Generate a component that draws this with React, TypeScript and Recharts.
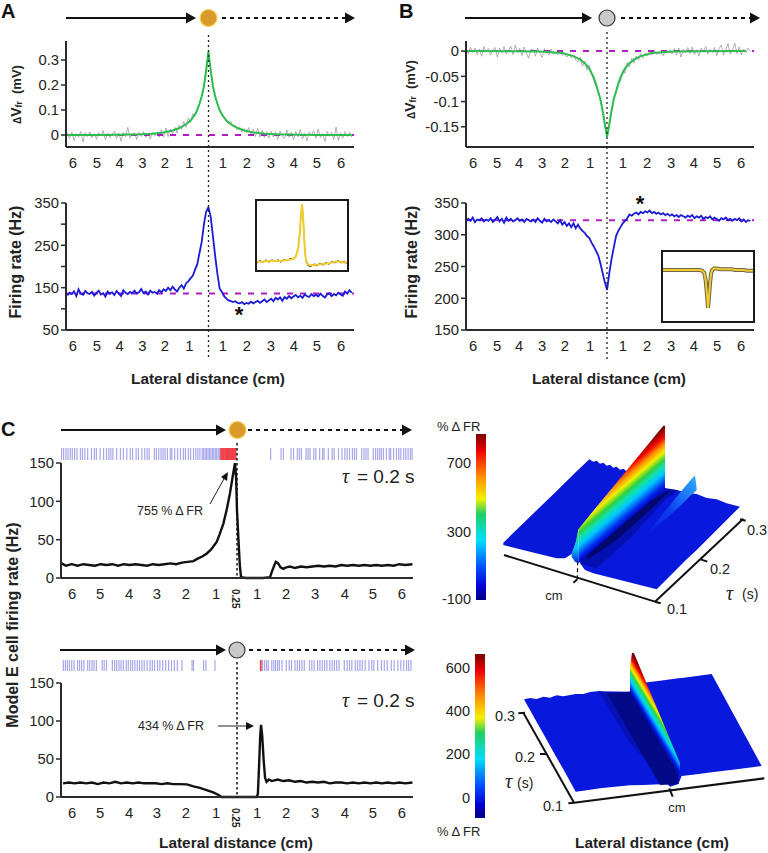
import React from "react";
import {
  Area,
  ComposedChart,
  Line,
  LineChart,
  ReferenceLine,
  Scatter,
  ScatterChart,
  XAxis,
  YAxis,
} from "recharts";

const FONT = "'Liberation Sans', Arial, sans-serif";

// x positions (cm) shared by the panel A and B traces, one row of ten per line
const gridCm = [
  -6.3, -6.2, -6.1, -6, -5.9, -5.8, -5.7, -5.6, -5.5, -5.4,
  -5.3, -5.2, -5.1, -5, -4.9, -4.8, -4.7, -4.6, -4.5, -4.4,
  -4.3, -4.2, -4.1, -4, -3.9, -3.8, -3.7, -3.6, -3.5, -3.4,
  -3.3, -3.2, -3.1, -3, -2.9, -2.8, -2.7, -2.6, -2.5, -2.4,
  -2.3, -2.2, -2.1, -2, -1.9, -1.8, -1.7, -1.6, -1.5, -1.4,
  -1.3, -1.2, -1.1, -1, -0.9, -0.8, -0.7, -0.6, -0.5, -0.4,
  -0.3, -0.2, -0.1, 0, 0.1, 0.2, 0.3, 0.4, 0.5, 0.6,
  0.7, 0.8, 0.9, 1, 1.1, 1.2, 1.3, 1.4, 1.5, 1.6,
  1.7, 1.8, 1.9, 2, 2.1, 2.2, 2.3, 2.4, 2.5, 2.6,
  2.7, 2.8, 2.9, 3, 3.1, 3.2, 3.3, 3.4, 3.5, 3.6,
  3.7, 3.8, 3.9, 4, 4.1, 4.2, 4.3, 4.4, 4.5, 4.6,
  4.7, 4.8, 4.9, 5, 5.1, 5.2, 5.3, 5.4, 5.5, 5.6,
  5.7, 5.8, 5.9, 6, 6.1, 6.2, 6.3, 6.4,
];

// membrane potential change, in microvolts
const rawDvA = [
  8, -14, 12, -22, 6, -9, 15, -28, 10, -6,
  13, -11, 5, -17, 9, -4, 18, -20, 7, -12,
  4, 16, -15, 8, -25, 11, -7, 30, -13, 3,
  9, -18, 12, -6, 14, -10, 7, -16, 11, -5,
  10, -9, 22, -8, 28, -6, 24, 5, 30, 8,
  40, 22, 55, 30, 68, 50, 85, 75, 105, 125,
  150, 195, 258, 330, 262, 198, 158, 128, 98, 88,
  70, 62, 45, 55, 32, 38, 20, 30, 12, 26,
  8, 30, -4, 24, -6, 28, -8, 18, -10, 14,
  -12, 15, -8, 12, -18, 16, -5, -14, 20, -9,
  10, -20, 14, -7, 22, -16, 6, -24, 12, -3,
  17, -13, 24, -10, 6, -26, 15, -5, 11, -18,
  32, -22, 9, -12, 14, -6, 10, -8,
];
const rawDvB = [
  2, -5, 8, -3, 6, -7, 4, -10, 9, -2,
  5, -8, 3, 7, -12, 6, -4, 9, -6, 2,
  10, -7, 12, -3, 6, -9, 8, -5, -14, 4,
  3, -10, 6, -4, -13, 5, -2, -8, 4, -6,
  -3, -7, 2, -9, -4, -12, -6, -14, -8, -18,
  -22, -12, -30, -20, -38, -28, -42, -58, -70, -78,
  -98, -120, -145, -170, -146, -118, -95, -82, -62, -60,
  -38, -44, -22, -32, -14, -24, -10, -18, -5, -14,
  -4, -10, -1, -8, 2, -6, -5, -3, -9, 1,
  -4, 3, -6, 5, -8, 6, -12, 4, -3, 7,
  -5, 8, -7, 3, -10, 6, -2, 9, -6, 4,
  -3, 7, -9, 5, 12, -8, 3, 15, -6, 2,
  16, -5, 8, -7, 4, -3, 6, -1,
];

const fitAX = [-6.3, -5, -4, -3, -2.5, -2, -1.6, -1.3, -1, -0.8, -0.6, -0.5, -0.4, -0.3, -0.2, -0.1, 0, 0.1, 0.2, 0.3, 0.4, 0.5, 0.6, 0.8, 1, 1.3, 1.6, 2, 2.5, 3, 4, 5, 6.4];
const fitAY = [0, 0, 1, 3, 5, 10, 18, 28, 43, 58, 82, 100, 125, 155, 195, 260, 335, 260, 195, 155, 125, 100, 82, 58, 43, 28, 18, 10, 5, 3, 1, 0, 0];
const fitBX = [-6.3, -4, -3, -2, -1.5, -1.2, -1, -0.8, -0.6, -0.5, -0.4, -0.3, -0.2, -0.1, 0, 0.1, 0.2, 0.3, 0.4, 0.5, 0.6, 0.8, 1, 1.2, 1.5, 2, 3, 4, 6.2];
const fitBY = [0, -0.5, -1, -4, -10, -17, -24, -34, -52, -65, -80, -95, -118, -145, -170, -145, -118, -95, -80, -65, -52, -34, -24, -17, -10, -4, -1, -0.5, 0];

// firing rates (Hz)
const rateA = [
  132, 138, 135, 141, 130, 146, 136, 133, 142, 137,
  135, 140, 131, 138, 143, 134, 137, 129, 141, 136,
  139, 133, 142, 136, 130, 144, 138, 135, 140, 137,
  143, 136, 139, 147, 137, 141, 134, 143, 138, 140,
  136, 144, 139, 146, 142, 150, 144, 152, 146, 141,
  150, 156, 148, 160, 165, 172, 178, 192, 205, 232,
  258, 300, 330, 340, 318, 272, 225, 183, 148, 140,
  130, 124, 120, 118, 116, 118, 114, 113, 116, 111,
  114, 112, 117, 113, 116, 119, 114, 118, 122, 116,
  120, 124, 118, 126, 122, 127, 119, 128, 124, 130,
  125, 129, 133, 127, 131, 126, 134, 130, 128, 135,
  130, 133, 129, 136, 131, 127, 134, 137, 130, 135,
  132, 138, 134, 131, 141, 136, 144, 138,
];
const rateB = [
  321, 325, 322, 327, 320, 324, 323, 326, 321, 324,
  322, 326, 320, 324, 328, 321, 325, 319, 327, 322,
  325, 321, 323, 326, 322, 324, 320, 325, 323, 321,
  324, 320, 326, 322, 319, 325, 321, 323, 320, 324,
  321, 318, 323, 316, 320, 314, 318, 312, 318, 310,
  316, 310, 306, 303, 298, 295, 288, 282, 275, 268,
  255, 240, 225, 213, 240, 262, 280, 298, 306, 312,
  318, 322, 326, 332, 330, 333, 335, 332, 336, 334,
  337, 335, 338, 334, 336, 333, 335, 332, 334, 331,
  333, 330, 332, 329, 331, 328, 331, 329, 327, 330,
  328, 331, 326, 329, 327, 330, 325, 328, 326, 329,
  324, 327, 325, 322, 326, 324, 327, 323, 325, 322,
  325, 323, 326, 321, 324, 320, 323, 322,
];

// insets, in percent of the inset height
const insetX = [-6, -5.6, -5.2, -4.8, -4.4, -4, -3.6, -3.2, -2.8, -2.4, -2, -1.6, -1.2, -0.8, -0.5, -0.3, -0.15, 0, 0.1, 0.25, 0.4, 0.55, 0.8, 1.2, 1.6, 2, 2.4, 2.8, 3.2, 3.6, 4, 4.4, 4.8, 5.2, 5.6, 6];
const insetAFit = [12, 12, 12, 13, 13, 13, 13, 13, 13, 14, 14, 15, 16, 20, 32, 52, 78, 95, 85, 55, 25, 13, 8, 7, 7, 8, 8, 9, 9, 10, 11, 12, 12, 12, 11, 11];
const insetARaw = [10, 14, 11, 15, 11, 15, 12, 15, 11, 16, 13, 17, 15, 21, 32, 52, 78, 95, 85, 55, 25, 12, 6, 5, 9, 6, 10, 7, 11, 8, 13, 10, 14, 10, 13, 9];
const insetBFit = [74, 74, 74, 74, 74, 74, 74, 74, 74, 74, 74, 74, 74, 73, 70, 58, 40, 19, 30, 52, 68, 74, 76, 76, 75, 75, 75, 75, 75, 74, 74, 74, 74, 73, 73, 73];

// panel C model cell
const modelTopX = [-6.05, -5.9, -5.7, -5.5, -5.3, -5.1, -4.9, -4.7, -4.5, -4.3, -4.1, -3.9, -3.7, -3.5, -3.3, -3.1, -2.9, -2.7, -2.5, -2.3, -2.1, -1.9, -1.7, -1.5, -1.39, -1.2, -1.04, -0.9, -0.7, -0.6, -0.47, -0.35, -0.24, -0.15, -0.07, -0.03, 0, 0.05, 0.1, 0.14, 0.3, 0.6, 0.9, 1.14, 1.2, 1.28, 1.34, 1.42, 1.5, 1.6, 1.7, 1.83, 2, 2.2, 2.4, 2.6, 2.8, 3, 3.2, 3.4, 3.6, 3.8, 4, 4.2, 4.4, 4.6, 4.8, 5, 5.2, 5.4, 5.6, 5.8, 6.05];
const modelTopY = [19, 16, 18, 16, 18, 17, 16, 18, 17, 18, 16, 18, 17, 18, 17, 16, 18, 17, 18, 19, 18, 20, 21, 22, 24.6, 28, 32, 37, 47, 57, 71, 90, 111, 132, 150, 130, 88, 50, 15, 1, 0, 0, 0, 1, 8, 16, 21, 19, 14, 12, 14, 15, 13, 15, 14, 15, 16, 15, 16, 15, 17, 16, 17, 16, 17, 16, 17, 16, 17, 16, 18, 17, 18];
const modelBottomX = [-6, -5.8, -5.6, -5.4, -5.2, -5, -4.8, -4.6, -4.4, -4.2, -4, -3.8, -3.6, -3.4, -3.2, -3, -2.8, -2.6, -2.4, -2.2, -2, -1.73, -1.5, -1.28, -1.05, -0.82, -0.65, -0.53, -0.2, 0.2, 0.68, 0.72, 0.76, 0.8, 0.83, 0.87, 0.92, 0.97, 1.02, 1.1, 1.2, 1.4, 1.6, 1.8, 2, 2.2, 2.4, 2.6, 2.8, 3, 3.2, 3.4, 3.6, 3.8, 4, 4.2, 4.4, 4.6, 4.8, 5, 5.2, 5.4, 5.6, 5.8, 6.05];
const modelBottomY = [18, 19, 18, 19, 18, 19, 17, 19, 18, 20, 18, 19, 18, 19, 18, 18, 18, 17, 18, 17, 17, 16.6, 14, 12, 9, 6, 3, 0, 0, 0, 0, 4, 40, 80, 95, 80, 48, 25, 20, 23, 21, 23, 21, 22, 20, 21, 19, 20, 19, 20, 18, 19, 19, 18, 19, 18, 19, 18, 19, 18, 19, 18, 19, 18, 19];

// spike rasters
const spikesTopBlue = [-6.05, -5.98, -5.9, -5.83, -5.75, -5.68, -5.6, -5.52, -5.4, -5.33, -5.25, -5.15, -5.02, -4.92, -4.85, -4.72, -4.6, -4.5, -4.42, -4.35, -4.28, -4.15, -4.02, -3.92, -3.8, -3.68, -3.6, -3.48, -3.4, -3.28, -3.18, -3.1, -3.03, -2.85, -2.78, -2.7, -2.62, -2.55, -2.48, -2.4, -2.3, -2.25, -2.15, -2.05, -1.95, -1.85, -1.78, -1.68, -1.6, -1.5, -1.42, -1.35, -1.28, -1.2, -1.15, -1.1, -1.05, -1, -0.95, -0.9, -0.85, -0.8, -0.75, -0.7, -0.65, -0.6, 1.16, 1.52, 1.6, 1.86, 1.95, 2.08, 2.15, 2.22, 2.38, 2.45, 2.52, 2.65, 2.72, 2.85, 2.95, 3, 3.15, 3.28, 3.35, 3.5, 3.62, 3.72, 3.8, 3.88, 3.98, 4.05, 4.12, 4.3, 4.38, 4.45, 4.52, 4.7, 4.78, 4.85, 4.92, 4.98, 5.05, 5.15, 5.25, 5.3, 5.4, 5.5, 5.58, 5.65, 5.75, 5.82, 5.9, 5.98, 6.04];
const spikesTopRed = [-0.55, -0.5, -0.45, -0.4, -0.36, -0.32, -0.28, -0.24, -0.2, -0.17, -0.14, -0.11, -0.08, -0.05];
const spikesBottomBlue = [-5.99, -5.92, -5.85, -5.78, -5.7, -5.62, -5.5, -5.43, -5.36, -5.28, -5.15, -5.08, -5, -4.93, -4.85, -4.65, -4.58, -4.5, -4.3, -4.22, -4.15, -4.07, -4, -3.92, -3.82, -3.75, -3.67, -3.6, -3.52, -3.44, -3.36, -3.28, -3.2, -3.1, -3, -2.92, -2.84, -2.74, -2.66, -2.56, -2.46, -2.36, -2.26, -2.16, -2.06, -1.9, -1.55, -1.5, -1.15, -1.07, -0.76, 0.88, 0.95, 1.02, 1.08, 1.2, 1.27, 1.33, 1.4, 1.46, 1.55, 1.7, 1.8, 1.88, 2, 2.08, 2.16, 2.24, 2.32, 2.5, 2.58, 2.66, 2.78, 2.86, 2.94, 3.02, 3.1, 3.2, 3.28, 3.36, 3.44, 3.52, 3.7, 3.8, 3.88, 3.96, 4.08, 4.16, 4.24, 4.32, 4.42, 4.55, 4.65, 4.72, 4.85, 4.98, 5.08, 5.18, 5.32, 5.42, 5.55, 5.65, 5.75, 5.85, 5.92, 6];
const spikesBottomRed = [0.82];

// axis ticks: where each printed distance sits, and what it says
const ticksA = [-6.05, -4.98, -3.97, -2.95, -1.94, -0.85, 0.65, 1.72, 2.79, 3.82, 4.84, 5.92];
const ticksB = [-5.98, -4.91, -3.93, -2.9, -1.88, -0.76, 0.71, 1.79, 2.86, 3.88, 4.91, 5.98];
const ticksC = [-5.69, -4.72, -3.72, -2.76, -1.76, -0.72, 0.69, 1.69, 2.69, 3.72, 4.69, 5.69];
const distanceLabels = ["6", "5", "4", "3", "2", "1", "1", "2", "3", "4", "5", "6"];

const dvATicks = [0, 100, 200, 300];
const dvALabels = ["0", "0.1", "0.2", "0.3"];
const dvBTicks = [-150, -100, -50, 0];
const dvBLabels = ["-0.15", "-0.1", "-0.05", "0"];
const rateATicks = [50, 100, 150, 200, 250, 300, 350];
const rateALabels = ["50", "", "150", "", "250", "", "350"];
const rateBTicks = [150, 200, 250, 300, 350];
const rateBLabels = ["150", "200", "250", "300", "350"];
const modelTicks = [0, 50, 100, 150];
const modelLabels = ["0", "50", "100", "150"];

// colour scale
const jetOffsets = [0, 0.08, 0.2, 0.36, 0.52, 0.61, 0.74, 0.9, 1];
const jetColors = ["#00007f", "#0000d8", "#0050ff", "#00e0ff", "#20d060", "#f4f000", "#ff9000", "#f00000", "#7a0000"];
const ridgeOffsets = [0, 0.1, 0.27, 0.38, 0.48, 0.6, 0.72, 0.84, 1];
const ridgeColors = ["#0000c0", "#0030f0", "#00c8ff", "#10e0b0", "#30d040", "#f0f000", "#ff8c00", "#f00000", "#700000"];

// upper surface, in the projected coordinates of a 1014 x 660 frame
const s1LeftX = [220, 300, 380, 405, 425, 440, 445, 478, 490, 500, 510, 520, 530, 540, 550, 560, 570, 580, 590];
const s1LeftTop = [398, 320, 243, 218, 199, 184, 179, 148, 155, 152, 161, 158, 167, 164, 173, 170, 179, 176, 184];
const s1LeftBottom = [405, 425, 445, 445, 432, 392, 360, 318, 303, 291, 279, 267, 255, 243, 231, 219, 207, 195, 184];
const s1RightX = [450, 465, 490, 680, 705, 740, 770, 800, 830, 860, 890, 930];
const s1RightTop = [452, 438, 415, 250, 234, 240, 248, 252, 264, 268, 280, 290];
const s1RightBottom = [460, 480, 490, 538, 513, 478, 448, 420, 390, 360, 330, 290];
const s1ValleyX = [455, 500, 600, 705, 745];
const s1ValleyTop = [450, 411, 326, 236, 241];
const s1ValleyBottom = [462, 475, 385, 270, 241];
const s1DeepX = [470, 560, 660, 720];
const s1DeepTop = [436, 358, 274, 240];
const s1DeepBottom = [450, 390, 300, 242];
const s1CrestX = [650, 670, 690, 720, 750, 780, 795, 800];
const s1CrestTop = [372, 348, 322, 285, 248, 212, 196, 236];
const s1CrestBottom = [378, 358, 340, 316, 288, 258, 245, 241];
const s1RidgeX = [445, 700, 705];
const s1RidgeTop = [358, 47, 47];
const s1RidgeBottom = [460, 238, 238];
const s1FootX = [425, 435, 445];
const s1FootTop = [432, 405, 358];
const s1FootBottom = [440, 455, 460];
const s1AxisX = [222, 675];
const s1AxisY = [435, 575];
const s1DepthX = [675, 940];
const s1DepthY = [575, 326];
const s1DepthEndX = [930, 947];
const s1DepthEndY = [328, 332];
const s1MidTickX = [812, 832];
const s1MidTickY = [448, 455];
const s1FrontTickX = [675, 692];
const s1FrontTickY = [575, 580];
const s1CmTickX = [430, 442];
const s1CmTickY = [518, 508];
const s1GuideX = [442, 443];
const s1GuideY = [508, 455];

// lower surface, in a 1014 x 669 frame
const s2PlateX = [283, 300, 320, 340, 360, 380, 400, 437, 460, 480, 510, 540, 600, 640, 690, 745, 755, 800, 845, 920, 995];
const s2PlateTop = [208, 204, 207, 200, 203, 196, 199, 192, 192, 186, 183, 192, 185, 158, 152, 145, 144, 138, 132, 270, 408];
const s2PlateBottom = [210, 240, 276, 311, 347, 383, 418, 485, 482, 479, 475, 472, 466, 465, 463, 462, 438, 433, 427, 418, 408];
const s2ValleyX = [530, 600, 690, 745];
const s2ValleyTop = [190, 185, 337, 430];
const s2ValleyBottom = [190, 310, 465, 462];
const s2ShadeX = [505, 600, 720, 745];
const s2ShadeTop = [184, 185, 390, 430];
const s2ShadeBottom = [184, 340, 470, 462];
const s2RidgeX = [600, 606, 612, 750];
const s2RidgeTop = [110, 68, 70, 400];
const s2RidgeBottom = [185, 195, 205, 432];
const s2LeftAxisX = [280, 432];
const s2LeftAxisY = [248, 518];
const s2FrontAxisX = [432, 1003];
const s2FrontAxisY = [518, 445];
const s2TickTopX = [265, 285];
const s2TickTopY = [250, 248];
const s2TickMidX = [330, 350];
const s2TickMidY = [372, 372];
const s2TickLowX = [415, 432];
const s2TickLowY = [520, 518];
const s2TickCmX = [718, 728];
const s2TickCmY = [475, 500];

const zip = (xs: number[], ys: number[]) => xs.map((x, i) => ({ x, y: ys[i] }));
const band = (xs: number[], tops: number[], bottoms: number[]) =>
  xs.map((x, i) => ({ x, band: [tops[i], bottoms[i]] }));
const marks = (xs: number[]) => xs.map((x) => ({ x, y: 0.5 }));

const tickStyle = { fontSize: 14.8, fill: "#222", fontFamily: FONT };
const axisStyle = { stroke: "#2a2a2a", strokeWidth: 2 };

interface PanelProps {
  left: number;
  top: number;
  width: number;
  height: number;
  xDomain: number[];
  xTicks: number[];
  yDomain: number[];
  yTicks: number[];
  yLabels: string[];
  children: React.ReactNode;
}

const Panel = ({ left, top, width, height, xDomain, xTicks, yDomain, yTicks, yLabels, children }: PanelProps) => (
  <div style={{ position: "absolute", left: left - 60, top: top - 10 }}>
    <LineChart
      width={width + 70}
      height={height + 40}
      margin={{ top: 10, right: 10, bottom: 0, left: 0 }}
    >
      <XAxis
        dataKey="x"
        type="number"
        domain={xDomain}
        ticks={xTicks}
        interval={0}
        height={30}
        tickLine={false}
        tickMargin={4}
        axisLine={axisStyle}
        tick={tickStyle}
        tickFormatter={(_v: number, i: number) => distanceLabels[i]}
      />
      <YAxis
        type="number"
        width={60}
        domain={yDomain}
        ticks={yTicks}
        interval={0}
        tickSize={5}
        tickMargin={2}
        axisLine={axisStyle}
        tickLine={{ stroke: "#2a2a2a", strokeWidth: 1.5 }}
        tick={tickStyle}
        tickFormatter={(_v: number, i: number) => yLabels[i]}
      />
      {children}
    </LineChart>
  </div>
);

const trace = (data: { x: number; y: number }[], stroke: string, strokeWidth: number, key: string) => (
  <Line
    key={key}
    data={data}
    dataKey="y"
    stroke={stroke}
    strokeWidth={strokeWidth}
    dot={false}
    activeDot={false}
    isAnimationActive={false}
  />
);

const Inset = ({ left, top, lines }: { left: number; top: number; lines: React.ReactNode }) => (
  <div
    style={{
      position: "absolute",
      left,
      top,
      width: 90,
      height: 69,
      border: "2px solid #1a1a1a",
      background: "#fff",
    }}
  >
    <LineChart width={90} height={69} margin={{ top: 0, right: 0, bottom: 0, left: 0 }}>
      <XAxis dataKey="x" type="number" domain={[-6, 6]} hide />
      <YAxis type="number" domain={[0, 100]} hide />
      {lines}
    </LineChart>
  </div>
);

const Raster = ({ top, height, blue, red }: { top: number; height: number; blue: number[]; red: number[] }) => (
  <div style={{ position: "absolute", left: 61, top }}>
    <ScatterChart width={352} height={height} margin={{ top: 0, right: 0, bottom: 0, left: 0 }}>
      <XAxis dataKey="x" type="number" domain={[-6.07, 6.07]} hide />
      <YAxis dataKey="y" type="number" domain={[0, 1]} hide />
      <Scatter
        data={marks(blue)}
        isAnimationActive={false}
        shape={(p: any) => <rect x={p.cx - 0.6} y={0} width={1.2} height={height} fill="#a8a8ea" />}
      />
      <Scatter
        data={marks(red)}
        isAnimationActive={false}
        shape={(p: any) => <rect x={p.cx - 0.9} y={0} width={1.8} height={height} fill="#f0404a" />}
      />
    </ScatterChart>
  </div>
);

const surfaceArea = (data: { x: number; band: number[] }[], fill: string, key: string) => (
  <Area
    key={key}
    data={data}
    dataKey="band"
    type="linear"
    fill={fill}
    fillOpacity={1}
    stroke="none"
    dot={false}
    activeDot={false}
    isAnimationActive={false}
  />
);

const surfaceLine = (xs: number[], ys: number[], key: string, dash?: string) => (
  <Line
    key={key}
    data={zip(xs, ys)}
    dataKey="y"
    stroke="#111"
    strokeWidth={dash ? 1.2 : 2}
    strokeDasharray={dash}
    dot={false}
    activeDot={false}
    isAnimationActive={false}
  />
);

const stops = (offsets: number[], colors: string[]) =>
  offsets.map((o, i) => <stop key={o} offset={o} stopColor={colors[i]} />);

const UpperSurface = () => (
  <div style={{ position: "absolute", left: 430, top: 410 }}>
    <ComposedChart width={338} height={220} margin={{ top: 0, right: 0, bottom: 0, left: 0 }}>
      <defs>
        <linearGradient id="ridgeUp" gradientUnits="userSpaceOnUse" x1={191.7} y1={116.3} x2={160.3} y2={79.5}>
          {stops(ridgeOffsets, ridgeColors)}
        </linearGradient>
        <linearGradient id="crestUp" x1="0" y1="1" x2="1" y2="0">
          <stop offset={0} stopColor="#0818dc" />
          <stop offset={0.45} stopColor="#0c40f0" />
          <stop offset={1} stopColor="#30b0ff" />
        </linearGradient>
        <linearGradient id="footUp" x1="0" y1="1" x2="0" y2="0">
          <stop offset={0} stopColor="#0020e0" />
          <stop offset={0.45} stopColor="#00c8ff" />
          <stop offset={1} stopColor="#50d040" />
        </linearGradient>
      </defs>
      <XAxis dataKey="x" type="number" domain={[0, 1014]} hide />
      <YAxis type="number" domain={[0, 660]} reversed hide />
      {surfaceArea(band(s1LeftX, s1LeftTop, s1LeftBottom), "#0818d8", "left")}
      {surfaceArea(band(s1RightX, s1RightTop, s1RightBottom), "#0818dc", "right")}
      {surfaceArea(band(s1ValleyX, s1ValleyTop, s1ValleyBottom), "#0410b0", "valley")}
      {surfaceArea(band(s1DeepX, s1DeepTop, s1DeepBottom), "#02086c", "deep")}
      {surfaceArea(band(s1CrestX, s1CrestTop, s1CrestBottom), "url(#crestUp)", "crest")}
      {surfaceArea(band(s1FootX, s1FootTop, s1FootBottom), "url(#footUp)", "foot")}
      {surfaceArea(band(s1RidgeX, s1RidgeTop, s1RidgeBottom), "url(#ridgeUp)", "ridge")}
      {surfaceLine(s1AxisX, s1AxisY, "axis")}
      {surfaceLine(s1DepthX, s1DepthY, "depth")}
      {surfaceLine(s1DepthEndX, s1DepthEndY, "depthEnd")}
      {surfaceLine(s1MidTickX, s1MidTickY, "midTick")}
      {surfaceLine(s1FrontTickX, s1FrontTickY, "frontTick")}
      {surfaceLine(s1CmTickX, s1CmTickY, "cmTick")}
      {surfaceLine(s1GuideX, s1GuideY, "guide", "4 3")}
    </ComposedChart>
  </div>
);

const LowerSurface = () => (
  <div style={{ position: "absolute", left: 430, top: 630 }}>
    <ComposedChart width={338} height={223} margin={{ top: 0, right: 0, bottom: 0, left: 0 }}>
      <defs>
        <linearGradient id="ridgeLow" gradientUnits="userSpaceOnUse" x1={225} y1={103} x2={243.4} y2={91.9}>
          {stops(ridgeOffsets, ridgeColors)}
        </linearGradient>
      </defs>
      <XAxis dataKey="x" type="number" domain={[0, 1014]} hide />
      <YAxis type="number" domain={[0, 669]} reversed hide />
      {surfaceArea(band(s2PlateX, s2PlateTop, s2PlateBottom), "#0818dc", "plate")}
      {surfaceArea(band(s2ShadeX, s2ShadeTop, s2ShadeBottom), "#0612b8", "shade")}
      {surfaceArea(band(s2ValleyX, s2ValleyTop, s2ValleyBottom), "#030a88", "valley")}
      {surfaceArea(band(s2RidgeX, s2RidgeTop, s2RidgeBottom), "url(#ridgeLow)", "ridge")}
      {surfaceLine(s2LeftAxisX, s2LeftAxisY, "leftAxis")}
      {surfaceLine(s2FrontAxisX, s2FrontAxisY, "frontAxis")}
      {surfaceLine(s2TickTopX, s2TickTopY, "tickTop")}
      {surfaceLine(s2TickMidX, s2TickMidY, "tickMid")}
      {surfaceLine(s2TickLowX, s2TickLowY, "tickLow")}
      {surfaceLine(s2TickCmX, s2TickCmY, "tickCm")}
    </ComposedChart>
  </div>
);

const Txt = (props: React.SVGProps<SVGTextElement>) => (
  <text fontFamily={FONT} fill="#222" {...props} />
);

// the travel arrows with the fixation dot between them
const Travel = ({ y, x0, x1, cx, r, x2, x3, fill, ring }: { y: number; x0: number; x1: number; cx: number; r: number; x2: number; x3: number; fill: string; ring: string }) => (
  <g>
    <line x1={x0} y1={y} x2={x1 - 8} y2={y} stroke="#111" strokeWidth={2} />
    <polygon points={`${x1 - 10},${y - 5.5} ${x1},${y} ${x1 - 10},${y + 5.5}`} fill="#111" />
    <circle cx={cx} cy={y} r={r} fill={fill} stroke={ring} strokeWidth={1.2} />
    <line x1={x2} y1={y} x2={x3 - 8} y2={y} stroke="#111" strokeWidth={2} strokeDasharray="4 4" />
    <polygon points={`${x3 - 10},${y - 5.5} ${x3},${y} ${x3 - 10},${y + 5.5}`} fill="#111" />
  </g>
);

const Overlay = () => (
  <svg width={768} height={853} style={{ position: "absolute", left: 0, top: 0, pointerEvents: "none" }}>
    <defs>
      <linearGradient id="jetBar" x1="0" y1="1" x2="0" y2="0">
        {stops(jetOffsets, jetColors)}
      </linearGradient>
    </defs>

    <Txt x={1} y={18} fontSize={20} fontWeight="bold" fill="#111">A</Txt>
    <Txt x={399} y={18} fontSize={20} fontWeight="bold" fill="#111">B</Txt>
    <Txt x={1} y={436} fontSize={20} fontWeight="bold" fill="#111">C</Txt>

    <Travel y={18} x0={66} x1={196} cx={208.5} r={8.5} x2={222} x3={355} fill="#da9a2a" ring="#f2d35a" />
    <Travel y={18} x0={465} x1={592} cx={607} r={8} x2={621} x3={760} fill="#c9c9c9" ring="#333" />
    <Travel y={430} x0={61} x1={226} cx={237.5} r={8.5} x2={248} x3={412} fill="#da9a2a" ring="#f2d35a" />
    <Travel y={650} x0={60} x1={226} cx={237} r={8} x2={249} x3={415} fill="#c9c9c9" ring="#333" />

    <line x1={208.5} y1={35} x2={208.5} y2={358} stroke="#222" strokeWidth={1.3} strokeDasharray="2 3" />
    <line x1={607} y1={32} x2={607} y2={360} stroke="#222" strokeWidth={1.3} strokeDasharray="2 3" />
    <line x1={237} y1={443} x2={237} y2={578} stroke="#111" strokeWidth={1.5} strokeDasharray="2.5 2.5" />
    <line x1={237} y1={662} x2={237} y2={797} stroke="#111" strokeWidth={1.5} strokeDasharray="2.5 2.5" />

    <Txt transform="translate(21,124) rotate(-90)" fontSize={10} fontWeight="bold">
      Δ<tspan fontSize={14}>V</tspan><tspan fontSize={9} dy={1}>fr</tspan>
      <tspan fontSize={13} dy={-1} dx={7}>(mV)</tspan>
    </Txt>
    <Txt transform="translate(415,119) rotate(-90)" fontSize={10} fontWeight="bold">
      Δ<tspan fontSize={14}>V</tspan><tspan fontSize={9} dy={1}>fr</tspan>
      <tspan fontSize={13} dy={-1} dx={7}>(mV)</tspan>
    </Txt>
    <Txt transform="translate(21,262) rotate(-90)" fontSize={16} fontWeight="bold" textAnchor="middle">Firing rate (Hz)</Txt>
    <Txt transform="translate(417,262) rotate(-90)" fontSize={16} fontWeight="bold" textAnchor="middle">Firing rate (Hz)</Txt>
    <Txt x={208} y={384} fontSize={15.4} fontWeight="bold" textAnchor="middle">Lateral distance (cm)</Txt>
    <Txt x={609} y={384} fontSize={15.4} fontWeight="bold" textAnchor="middle">Lateral distance (cm)</Txt>
    <Txt x={239} y={322} fontSize={22} fontWeight="bold" textAnchor="middle" fill="#111">*</Txt>
    <Txt x={640} y={211} fontSize={22} fontWeight="bold" textAnchor="middle" fill="#111">*</Txt>

    <Txt transform="translate(18,625) rotate(-90)" fontSize={16} fontWeight="bold" textAnchor="middle">Model E cell firing rate (Hz)</Txt>
    <Txt transform="translate(232,589) rotate(90)" fontSize={10} fontWeight="bold">0.25</Txt>
    <Txt transform="translate(232,808) rotate(90)" fontSize={10} fontWeight="bold">0.25</Txt>
    <Txt x={236} y={848} fontSize={15.4} fontWeight="bold" textAnchor="middle">Lateral distance (cm)</Txt>

    <Txt x={342} y={483} fontSize={20} fontFamily="'Liberation Serif', serif" fontStyle="italic">τ</Txt>
    <Txt x={357} y={483} fontSize={19}>= 0.2 s</Txt>
    <Txt x={342} y={707} fontSize={20} fontFamily="'Liberation Serif', serif" fontStyle="italic">τ</Txt>
    <Txt x={357} y={707} fontSize={19}>= 0.2 s</Txt>

    <Txt x={137} y={515} fontSize={12.5}>755 % Δ FR</Txt>
    <line x1={210} y1={504} x2={225} y2={477} stroke="#222" strokeWidth={1} />
    <polygon points="228,472 221,477 227,481" fill="#111" />
    <Txt x={138} y={730} fontSize={12.5}>434 % Δ FR</Txt>
    <line x1={218} y1={726} x2={247} y2={726} stroke="#222" strokeWidth={1} />
    <polygon points="254,726 246,722 246,730" fill="#111" />

    <rect x={476} y={434} width={10} height={166} fill="url(#jetBar)" />
    <Txt x={437} y={431} fontSize={13}>% Δ FR</Txt>
    <Txt x={471} y={468} fontSize={14.5} textAnchor="end">700</Txt>
    <Txt x={471} y={537} fontSize={14.5} textAnchor="end">300</Txt>
    <Txt x={471} y={604} fontSize={14.5} textAnchor="end">-100</Txt>
    <Txt x={554} y={600} fontSize={13} textAnchor="middle">cm</Txt>
    <Txt x={677} y={614} fontSize={14.5} textAnchor="middle">0.1</Txt>
    <Txt x={720} y={574} fontSize={14.5} textAnchor="middle">0.2</Txt>
    <Txt x={757} y={535} fontSize={14.5} textAnchor="middle">0.3</Txt>
    <Txt x={726} y={600} fontSize={20} fontFamily="'Liberation Serif', serif" fontStyle="italic">τ</Txt>
    <Txt x={742} y={599} fontSize={14}>(s)</Txt>

    <rect x={475} y={654} width={10} height={164} fill="url(#jetBar)" />
    <Txt x={470} y={673} fontSize={14.5} textAnchor="end">600</Txt>
    <Txt x={470} y={716} fontSize={14.5} textAnchor="end">400</Txt>
    <Txt x={470} y={759} fontSize={14.5} textAnchor="end">200</Txt>
    <Txt x={470} y={803} fontSize={14.5} textAnchor="end">0</Txt>
    <Txt x={437} y={836} fontSize={13}>% Δ FR</Txt>
    <Txt x={505} y={721} fontSize={14.5} textAnchor="middle">0.3</Txt>
    <Txt x={525} y={762} fontSize={14.5} textAnchor="middle">0.2</Txt>
    <Txt x={553} y={811} fontSize={14.5} textAnchor="middle">0.1</Txt>
    <Txt x={505} y={788} fontSize={20} fontFamily="'Liberation Serif', serif" fontStyle="italic">τ</Txt>
    <Txt x={517} y={788} fontSize={14}>(s)</Txt>
    <Txt x={677} y={812} fontSize={13} textAnchor="middle">cm</Txt>
    <Txt x={652} y={848} fontSize={15.4} fontWeight="bold" textAnchor="middle">Lateral distance (cm)</Txt>
  </svg>
);

export default function App() {
  return (
    <div style={{ position: "absolute", left: 0, top: 0, width: 768, height: 853, background: "#fff", overflow: "hidden" }}>
      <Panel left={66} top={41} width={288} height={106} xDomain={[-6.36, 6.5]} xTicks={ticksA} yDomain={[-48, 376]} yTicks={dvATicks} yLabels={dvALabels}>
        {trace(zip(gridCm, rawDvA), "#a598a8", 0.8, "raw")}
        <ReferenceLine y={0} stroke="#b01cc4" strokeWidth={2} strokeDasharray="6 7" />
        {trace(zip(fitAX, fitAY), "#2dbd4e", 2, "fit")}
      </Panel>
      <Panel left={66} top={203} width={288} height={127} xDomain={[-6.36, 6.5]} xTicks={ticksA} yDomain={[50, 350]} yTicks={rateATicks} yLabels={rateALabels}>
        <ReferenceLine y={136} stroke="#b01cc4" strokeWidth={2} strokeDasharray="6 7" />
        {trace(zip(gridCm, rateA), "#1a1ad8", 1.8, "rate")}
      </Panel>
      <Panel left={466} top={41} width={288} height={106} xDomain={[-6.29, 6.56]} xTicks={ticksB} yDomain={[-190, 20]} yTicks={dvBTicks} yLabels={dvBLabels}>
        {trace(zip(gridCm, rawDvB), "#a598a8", 0.8, "raw")}
        <ReferenceLine y={0} stroke="#b01cc4" strokeWidth={2} strokeDasharray="6 7" />
        {trace(zip(fitBX, fitBY), "#2dbd4e", 2, "fit")}
      </Panel>
      <Panel left={466} top={203} width={288} height={127} xDomain={[-6.29, 6.56]} xTicks={ticksB} yDomain={[150, 350]} yTicks={rateBTicks} yLabels={rateBLabels}>
        <ReferenceLine y={323} stroke="#b01cc4" strokeWidth={2} strokeDasharray="6 7" />
        {trace(zip(gridCm, rateB), "#1a1ad8", 1.8, "rate")}
      </Panel>

      <Inset
        left={255}
        top={199}
        lines={[
          trace(zip(insetX, insetARaw), "#444", 1, "raw"),
          trace(zip(insetX, insetAFit), "#f0cc30", 2, "fit"),
        ]}
      />
      <Inset
        left={661}
        top={250}
        lines={[
          trace(zip(insetX, insetBFit), "#6a664c", 4, "raw"),
          trace(zip(insetX, insetBFit), "#f0cc30", 2, "fit"),
        ]}
      />

      <Panel left={61} top={463} width={352} height={115} xDomain={[-6.07, 6.07]} xTicks={ticksC} yDomain={[0, 150]} yTicks={modelTicks} yLabels={modelLabels}>
        {trace(zip(modelTopX, modelTopY), "#111", 2.4, "model")}
      </Panel>
      <Panel left={61} top={683} width={352} height={114} xDomain={[-6.07, 6.07]} xTicks={ticksC} yDomain={[0, 150]} yTicks={modelTicks} yLabels={modelLabels}>
        {trace(zip(modelBottomX, modelBottomY), "#111", 2.4, "model")}
      </Panel>
      <Raster top={448} height={12} blue={spikesTopBlue} red={spikesTopRed} />
      <Raster top={660} height={11} blue={spikesBottomBlue} red={spikesBottomRed} />

      <UpperSurface />
      <LowerSurface />
      <Overlay />
    </div>
  );
}
